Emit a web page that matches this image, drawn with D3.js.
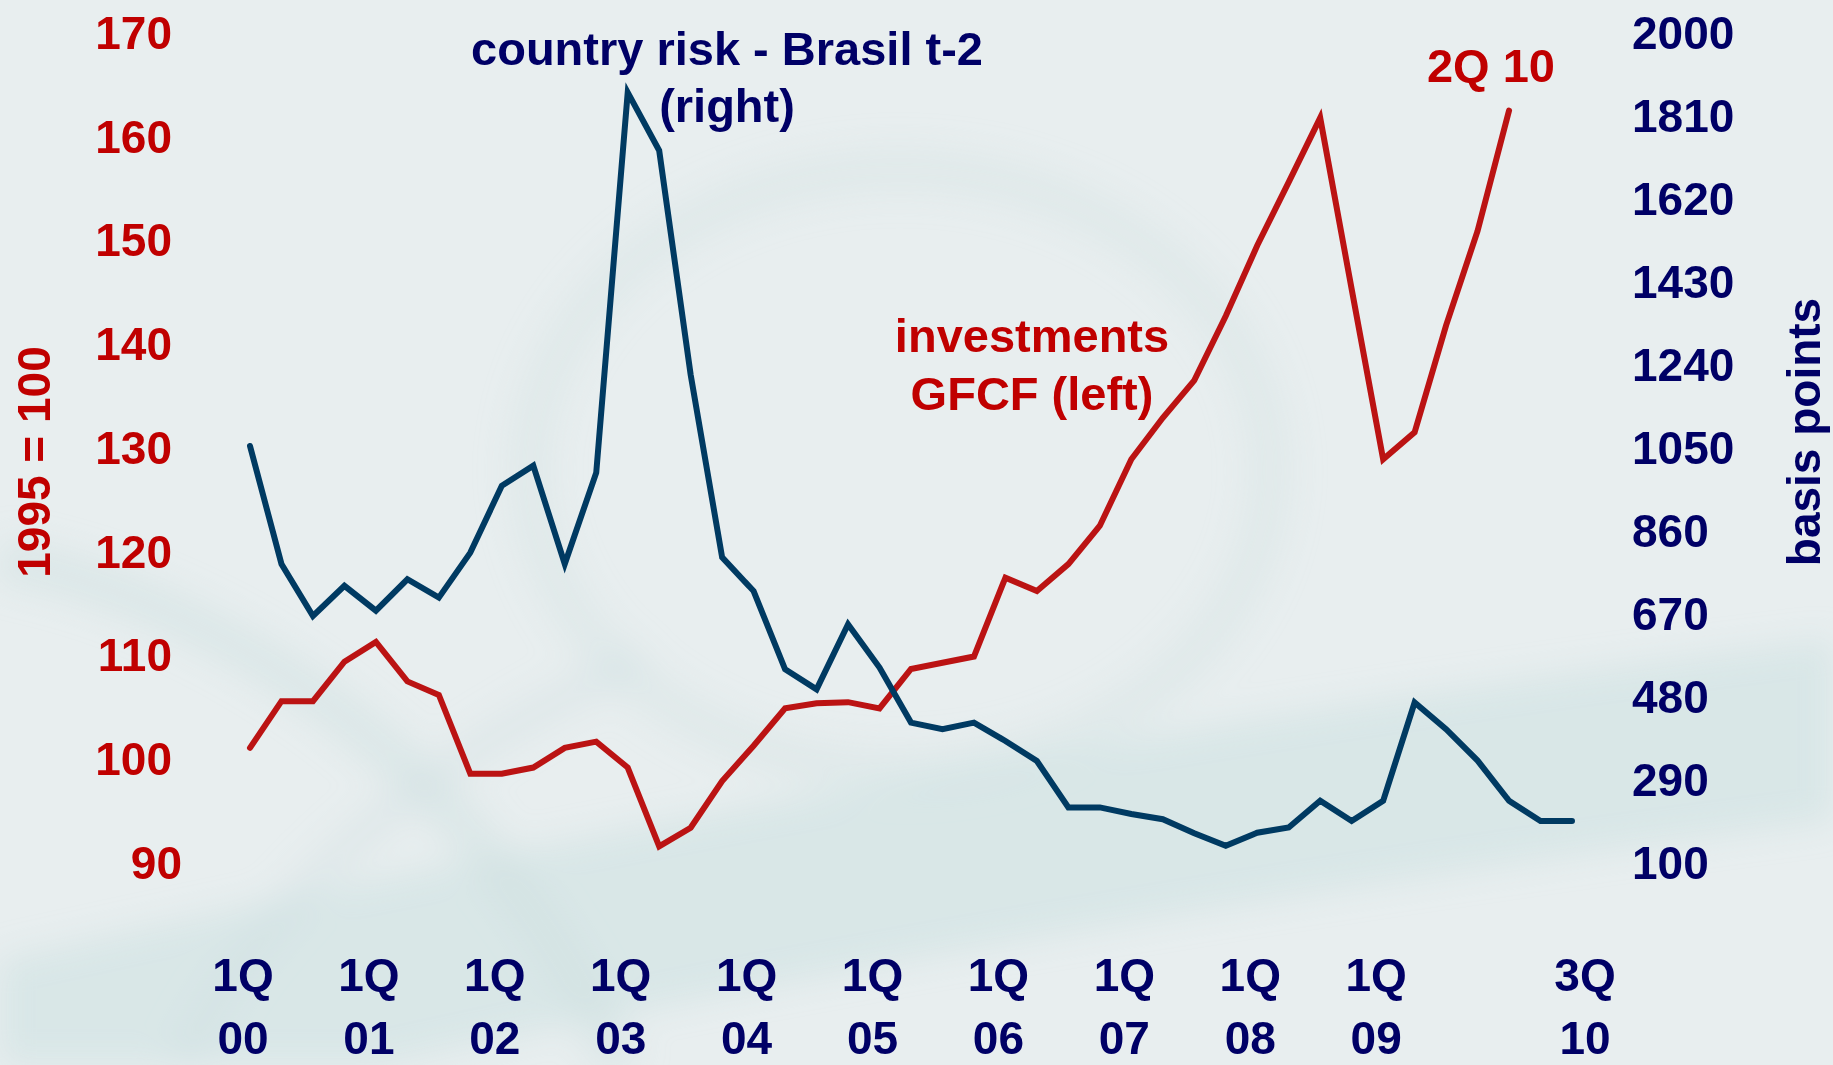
<!DOCTYPE html>
<html>
<head>
<meta charset="utf-8">
<script src="https://cdn.jsdelivr.net/npm/d3@7"></script>
<style>
  html, body { margin: 0; padding: 0; background: #e8eeef; }
  #chart { width: 1833px; height: 1065px; }
</style>
</head>
<body>
<div id="chart"></div>
<script>
// quarterly categories, 1Q00 .. 3Q10
const quarters = [
  "1Q00","2Q00","3Q00","4Q00","1Q01","2Q01","3Q01","4Q01",
  "1Q02","2Q02","3Q02","4Q02","1Q03","2Q03","3Q03","4Q03",
  "1Q04","2Q04","3Q04","4Q04","1Q05","2Q05","3Q05","4Q05",
  "1Q06","2Q06","3Q06","4Q06","1Q07","2Q07","3Q07","4Q07",
  "1Q08","2Q08","3Q08","4Q08","1Q09","2Q09","3Q09","4Q09",
  "1Q10","2Q10","3Q10"
];

// investments GFCF, 1995 = 100 (left axis)
const gfcf = [
  101.0, 105.5, 105.5, 109.3, 111.2, 107.4, 106.1, 98.5,
  98.5, 99.1, 101.0, 101.6, 99.1, 91.5, 93.3, 97.8,
  101.2, 104.8, 105.3, 105.4, 104.8, 108.6, 109.2, 109.8,
  117.4, 116.1, 118.7, 122.4, 128.8, 132.8, 136.4, 142.6,
  149.4, 155.5, 161.7, 145.2, 128.8, 131.4, 141.7, 150.8,
  162.4
];

// country risk Brasil t-2, basis points (right axis)
const countryRisk = [
  1052, 782, 663, 732, 675, 747, 705, 808,
  961, 1007, 782, 991, 1861, 1728, 1215, 797,
  720, 541, 495, 644, 545, 419, 404, 419,
  377, 331, 225, 225, 210, 198, 166, 137,
  167, 179, 240, 194, 240, 465, 404, 332,
  240, 194, 194
];

const leftTicks = [90, 100, 110, 120, 130, 140, 150, 160, 170];
const rightTicks = [100, 290, 480, 670, 860, 1050, 1240, 1430, 1620, 1810, 2000];
const xTicks = ["1Q00","1Q01","1Q02","1Q03","1Q04","1Q05","1Q06","1Q07","1Q08","1Q09","3Q10"];

const RED = "#c00000";
const NAVY = "#000066";
const FONT = "'Liberation Sans', Arial, sans-serif";

const width = 1833, height = 1065;

const svg = d3.select("#chart")
  .append("svg")
  .attr("width", width)
  .attr("height", height)
  .style("font-family", FONT);

// background + faint banknote watermark
svg.append("rect").attr("width", width).attr("height", height).attr("fill", "#e8eeef");

const defs = svg.append("defs");
defs.append("filter").attr("id", "soft")
  .attr("x", "-20%").attr("y", "-20%").attr("width", "140%").attr("height", "140%")
  .append("feGaussianBlur").attr("stdDeviation", 16);

const wm = svg.append("g").attr("filter", "url(#soft)");
wm.append("path")
  .attr("d", "M0,1065 L0,960 C 450,860 1150,720 1833,640 L1833,820 C 1350,880 750,980 380,1065 Z")
  .attr("fill", "#cadfe0").attr("opacity", 0.5);
wm.append("ellipse")
  .attr("cx", 900).attr("cy", 470).attr("rx", 370).attr("ry", 300)
  .attr("fill", "none").attr("stroke", "#d2e1e2").attr("stroke-width", 45).attr("opacity", 0.35);
wm.append("path")
  .attr("d", "M0,560 C 220,600 480,760 620,1065")
  .attr("fill", "none").attr("stroke", "#cfe0e1").attr("stroke-width", 45).attr("opacity", 0.45);
wm.append("path")
  .attr("d", "M180,1065 C 260,900 420,760 640,660")
  .attr("fill", "none").attr("stroke", "#d3e2e3").attr("stroke-width", 35).attr("opacity", 0.4);

// scales
const x = d3.scalePoint().domain(quarters).range([250, 1572]);
const yLeft = d3.scaleLinear().domain([90, 170]).range([862, 31.7]);
const yRight = d3.scaleLinear().domain([100, 2000]).range([862, 31.7]);

// left axis
svg.append("g")
  .attr("class", "y-left")
  .attr("transform", "translate(172,0)")
  .call(d3.axisLeft(yLeft).tickValues(leftTicks).tickSize(0).tickPadding(0).tickFormat(d3.format("d")))
  .call(g => g.select(".domain").remove())
  .selectAll("text")
  .attr("font-family", FONT)
  .attr("font-size", 46)
  .attr("font-weight", "bold")
  .attr("fill", RED)
  .attr("dy", "0.36em")
  .attr("dx", d => d === 90 ? 10 : 0);

// right axis
svg.append("g")
  .attr("class", "y-right")
  .attr("transform", "translate(1632,0)")
  .call(d3.axisRight(yRight).tickValues(rightTicks).tickSize(0).tickPadding(0).tickFormat(d3.format("d")))
  .call(g => g.select(".domain").remove())
  .selectAll("text")
  .attr("font-family", FONT)
  .attr("font-size", 46)
  .attr("font-weight", "bold")
  .attr("fill", NAVY)
  .attr("dy", "0.36em");

// x labels, two lines each
const xLab = svg.append("g")
  .attr("class", "x-axis")
  .attr("font-size", 46)
  .attr("font-weight", "bold")
  .attr("fill", NAVY)
  .attr("text-anchor", "middle")
  .selectAll("text")
  .data(xTicks)
  .join("text")
  .attr("transform", d => `translate(${x(d) + (d.startsWith("3Q") ? 13 : -7)},0)`);
xLab.append("tspan").attr("x", 0).attr("y", 991).text(d => d.slice(0, 2));
xLab.append("tspan").attr("x", 0).attr("y", 1054).text(d => d.slice(2));

// axis titles
svg.append("text")
  .attr("transform", "translate(50,462) rotate(-90)")
  .attr("text-anchor", "middle")
  .attr("font-size", 46).attr("font-weight", "bold").attr("fill", RED)
  .text("1995 = 100");

svg.append("text")
  .attr("transform", "translate(1820,432) rotate(-90)")
  .attr("text-anchor", "middle")
  .attr("font-size", 46).attr("font-weight", "bold").attr("fill", NAVY)
  .text("basis points");

// lines
const gfcfLine = d3.line()
  .x((d, i) => x(quarters[i]))
  .y(d => yLeft(d));

const riskLine = d3.line()
  .x((d, i) => x(quarters[i]))
  .y(d => yRight(d));

svg.append("path")
  .datum(gfcf)
  .attr("d", gfcfLine)
  .attr("fill", "none")
  .attr("stroke", "#bb1313")
  .attr("stroke-width", 6)
  .attr("stroke-linejoin", "miter")
  .attr("stroke-linecap", "round");

svg.append("path")
  .datum(countryRisk)
  .attr("d", riskLine)
  .attr("fill", "none")
  .attr("stroke", "#003a62")
  .attr("stroke-width", 6)
  .attr("stroke-linejoin", "miter")
  .attr("stroke-linecap", "round");

// annotations
const note1 = svg.append("text")
  .attr("text-anchor", "middle")
  .attr("font-size", 47).attr("font-weight", "bold").attr("fill", NAVY);
note1.append("tspan").attr("x", 727).attr("y", 65).text("country risk - Brasil t-2");
note1.append("tspan").attr("x", 727).attr("y", 122).text("(right)");

const note2 = svg.append("text")
  .attr("text-anchor", "middle")
  .attr("font-size", 47).attr("font-weight", "bold").attr("fill", RED);
note2.append("tspan").attr("x", 1032).attr("y", 352).text("investments");
note2.append("tspan").attr("x", 1032).attr("y", 410).text("GFCF (left)");

svg.append("text")
  .attr("x", 1491).attr("y", 82)
  .attr("text-anchor", "middle")
  .attr("font-size", 47).attr("font-weight", "bold").attr("fill", RED)
  .text("2Q 10");
</script>
</body>
</html>
